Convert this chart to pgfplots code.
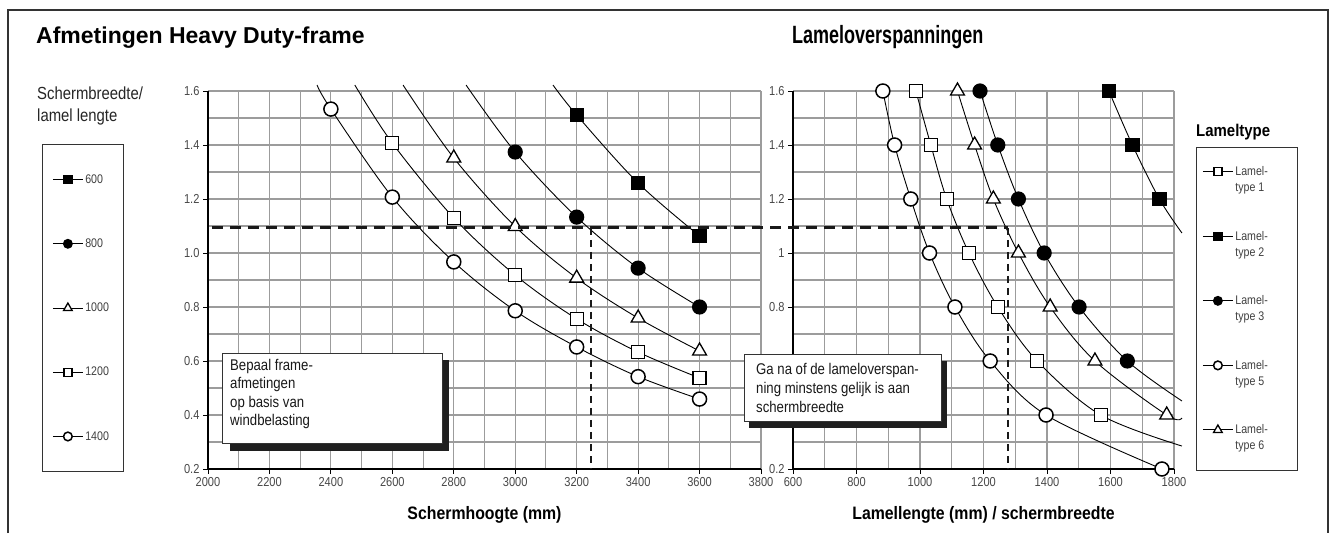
\documentclass[border=0pt]{standalone}
\usepackage{fontspec}
\setmainfont{Liberation Sans}
\newfontfamily\cond{Liberation Sans}[FakeStretch=0.85]
\newfontfamily\condb{Liberation Sans}[FakeStretch=0.88]
\newfontfamily\condt{Liberation Sans}[FakeStretch=0.72]
\usepackage{pgfplots}
\pgfplotsset{compat=1.18}
\definecolor{gridgray}{HTML}{9C9C9C}
\definecolor{ticktext}{HTML}{484848}
\definecolor{legtext}{HTML}{404040}
\definecolor{framegray}{HTML}{333333}

\pgfplotsset{
  base/.style={
    scale only axis, height=378pt,
    grid=both,
    major grid style={gridgray, line width=1.1pt},
    minor grid style={gridgray, line width=1.1pt},
    axis lines*=left, axis line style={black, line width=1.2pt, -},
    tick align=outside, major tick length=5pt, minor tick length=0pt,
    major tick style={black, line width=0.9pt},
    tick pos=left,
    /pgf/number format/assume math mode=true,
    ticklabel style={font=\cond\fontsize{13}{13}\selectfont, text=ticktext},
    xticklabel style={/pgf/number format/1000 sep={}},
    clip=false,
    ymin=0.2, ymax=1.6, ytick={0.2,0.4,0.6,0.8,1.0,1.2,1.4,1.6}, minor y tick num=1,
    minor x tick num=1,
    legend image code/.code={\draw[#1, mark indices={2}, every mark/.append style={scale=0.62}] plot coordinates {(0pt,0pt) (15pt,0pt) (30pt,0pt)};},
    legend cell align=left,
  },
  crv/.style={black, line width=0.9pt, smooth, tension=0.55},
  fsq/.style={crv, mark=square*, mark size=6.5pt, mark options={solid, fill=black, draw=black, line width=1.2pt}},
  osq/.style={crv, mark=square*, mark size=6.5pt, mark options={solid, fill=white, draw=black, line width=1.3pt}},
  fci/.style={crv, mark=*, mark size=7pt, mark options={solid, fill=black, draw=black, line width=1.2pt}},
  oci/.style={crv, mark=*, mark size=7pt, mark options={solid, fill=white, draw=black, line width=1.5pt}},
  otr/.style={crv, mark=triangle*, mark size=8pt, mark options={solid, fill=white, draw=black, line width=1.3pt}},
}

\begin{document}
\begin{tikzpicture}
\useasboundingbox (0pt,0pt) rectangle (1333pt,533pt);
\fill[white] (0pt,0pt) rectangle (1333pt,533pt);

% right legend frame (legend itself drawn without frame)
\draw[framegray, line width=0.9pt] (1196pt,{533pt-470pt}) rectangle (1297pt,{533pt-147pt});

% ---------------- left axis ----------------
\begin{axis}[base,
  at={(208pt,64pt)}, anchor=south west, width=553pt,
  xmin=2000, xmax=3800, xtick={2000,2200,2400,2600,2800,3000,3200,3400,3600,3800},
  yticklabel style={/pgf/number format/.cd, fixed, fixed zerofill, precision=1},
  legend style={at={(-0.3002,0.8598)}, anchor=north west, draw=framegray, line width=0.9pt,
    fill=white, inner xsep=10pt, inner ysep=28pt, row sep=50pt,
    font=\cond\fontsize{12.5}{16}\selectfont, text=legtext},
]
\addplot[fsq, mark indices={2,3,4}] coordinates {
  (3123,1.622) (3200,1.511) (3400,1.259) (3600,1.063)};
\addlegendentry{\makebox[26pt][l]{600}}
\addplot[fci, mark indices={2,3,4,5}] coordinates {
  (2840,1.622) (3000,1.374) (3200,1.133) (3400,0.944) (3600,0.800)};
\addlegendentry{\makebox[26pt][l]{800}}
\addplot[otr, mark indices={2,3,4,5,6}] coordinates {
  (2635,1.622) (2800,1.352) (3000,1.098) (3200,0.907) (3400,0.759) (3600,0.637)};
\addlegendentry{\makebox[26pt][l]{1000}}
\addplot[osq, mark indices={2,3,4,5,6,7}] coordinates {
  (2478,1.622) (2600,1.407) (2800,1.130) (3000,0.918) (3200,0.756) (3400,0.633) (3600,0.537)};
\addlegendentry{\makebox[26pt][l]{1200}}
\addplot[oci, mark indices={2,3,4,5,6,7,8}] coordinates {
  (2355,1.622) (2400,1.533) (2600,1.207) (2800,0.967) (3000,0.786) (3200,0.652) (3400,0.542) (3600,0.459)};
\addlegendentry{\makebox[26pt][l]{1400}}
\end{axis}

% ---------------- right axis ----------------
\begin{axis}[base,
  at={(793pt,64pt)}, anchor=south west, width=381pt,
  xmin=600, xmax=1800, xtick={600,800,1000,1200,1400,1600,1800},
  yticklabels={0.2,,,0.8,1,1.2,1.4,1.6},
  legend style={at={(1.0577,0.8519)}, anchor=north west, draw=none, line width=0.9pt,
    fill=none, inner xsep=6pt, inner ysep=17pt, row sep=50pt,
    font=\cond\fontsize{12.5}{16}\selectfont, text=legtext},
]
\addplot[osq, mark indices={1,2,3,4,5,6,7}] coordinates {
  (987,1.6) (1034,1.4) (1084,1.2) (1154,1.0) (1245,0.8) (1369,0.6) (1569,0.4) (1825,0.285)};
\addlegendentry{\parbox[t]{54pt}{Lamel-\\type 1}}
\addplot[fsq, mark indices={1,2,3}] coordinates {
  (1595,1.6) (1669,1.4) (1754,1.2) (1825,1.074)};
\addlegendentry{\parbox[t]{54pt}{Lamel-\\type 2}}
\addplot[fci, mark indices={1,2,3,4,5,6}] coordinates {
  (1189,1.6) (1245,1.4) (1310,1.2) (1391,1.0) (1501,0.8) (1653,0.6) (1825,0.452)};
\addlegendentry{\parbox[t]{54pt}{Lamel-\\type 3}}
\addplot[oci, mark indices={1,2,3,4,5,6,7,8}] coordinates {
  (883,1.6) (920,1.4) (971,1.2) (1030,1.0) (1110,0.8) (1221,0.6) (1397,0.4) (1762,0.2)};
\addlegendentry{\parbox[t]{54pt}{Lamel-\\type 5}}
\addplot[otr, mark indices={1,2,3,4,5,6,7}] coordinates {
  (1118,1.6) (1172,1.4) (1231,1.2) (1310,1.0) (1410,0.8) (1551,0.6) (1777,0.4) (1825,0.389)};
\addlegendentry{\parbox[t]{54pt}{Lamel-\\type 6}}
\end{axis}

% ---------------- dashed reading lines ----------------
\draw[black!90, line width=3pt, dash pattern=on 11pt off 7pt] (212pt,305pt) -- (1008pt,305pt);
\draw[black!90, line width=2pt, dash pattern=on 7pt off 5pt] (591pt,305pt) -- (591pt,64pt);
\draw[black!90, line width=2pt, dash pattern=on 7pt off 5pt] (1008pt,305pt) -- (1008pt,64pt);

% ---------------- annotation boxes ----------------
\fill[black!88] (230pt,{533pt-451pt}) rectangle (449pt,{533pt-360pt});
\filldraw[fill=white, draw=framegray, line width=0.8pt] (222pt,{533pt-443pt}) rectangle (442pt,{533pt-353pt});
\node[anchor=north west, inner sep=0pt, align=left, font=\cond\fontsize{15.5}{18.3}\selectfont, text=black!90]
  at (230pt,{533pt-359pt}) {Bepaal frame-\\afmetingen\\op basis van\\windbelasting};

\fill[black!88] (749pt,{533pt-428pt}) rectangle (947pt,{533pt-361pt});
\filldraw[fill=white, draw=framegray, line width=0.8pt] (744pt,{533pt-421pt}) rectangle (941pt,{533pt-354pt});
\node[anchor=north west, inner sep=0pt, align=left, font=\cond\fontsize{15.5}{19}\selectfont, text=black!90]
  at (756pt,{533pt-363pt}) {Ga na of de lameloverspan-\\ning minstens gelijk is aan\\schermbreedte};

% ---------------- texts ----------------
\node[anchor=base west, inner sep=0pt, font=\bfseries\fontsize{23}{23}\selectfont] at (36pt,{533pt-44pt}) {Afmetingen Heavy Duty-frame};
\node[anchor=base west, inner sep=0pt, font=\condt\bfseries\fontsize{25}{25}\selectfont] at (792pt,{533pt-44pt}) {Lameloverspanningen};
\node[anchor=base west, inner sep=0pt, font=\cond\fontsize{17.5}{17.5}\selectfont, text=black!85] at (37pt,{533pt-100pt}) {Schermbreedte/};
\node[anchor=base west, inner sep=0pt, font=\cond\fontsize{17.5}{17.5}\selectfont, text=black!85] at (37pt,{533pt-122pt}) {lamel lengte};
\node[anchor=base west, inner sep=0pt, font=\condb\bfseries\fontsize{17}{17}\selectfont] at (1196pt,{533pt-137pt}) {Lameltype};
\node[anchor=base, inner sep=0pt, font=\condb\bfseries\fontsize{18}{18}\selectfont] at (484.5pt,{533pt-519pt}) {Schermhoogte (mm)};
\node[anchor=base, inner sep=0pt, font=\condb\bfseries\fontsize{18}{18}\selectfont] at (983.5pt,{533pt-519pt}) {Lamellengte (mm) / schermbreedte};

% ---------------- outer frame ----------------
\draw[framegray, line width=1.3pt] (8pt,0pt) -- (8pt,523pt) -- (1328pt,523pt) -- (1328pt,0pt);
\end{tikzpicture}
\end{document}
